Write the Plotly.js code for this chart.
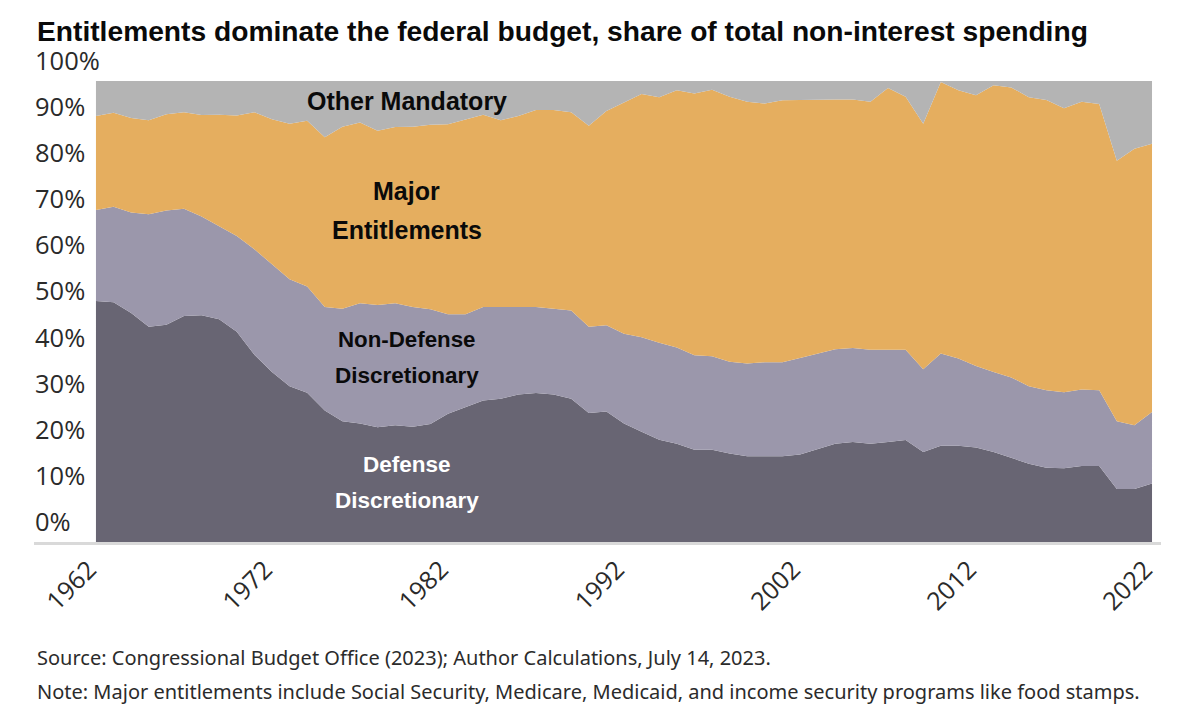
<!DOCTYPE html>
<html><head><meta charset="utf-8">
<script src="https://cdn.plot.ly/plotly-3.0.1.min.js"></script>
<style>html,body{margin:0;padding:0;background:#fff}</style></head>
<body><div id="chart" style="width:1200px;height:725px"></div>
<script>
const years = [1962,1963,1964,1965,1966,1967,1968,1969,1970,1971,1972,1973,1974,1975,1976,1977,1978,1979,1980,1981,1982,1983,1984,1985,1986,1987,1988,1989,1990,1991,1992,1993,1994,1995,1996,1997,1998,1999,2000,2001,2002,2003,2004,2005,2006,2007,2008,2009,2010,2011,2012,2013,2014,2015,2016,2017,2018,2019,2020,2021,2022];
const defense = [52.3,52.0,49.7,46.7,47.1,49.0,49.2,48.3,45.6,40.6,36.9,33.8,32.4,28.5,26.2,25.7,24.9,25.3,25.0,25.6,27.8,29.3,30.7,31.1,32.0,32.3,32.0,31.1,28.0,28.3,25.7,23.9,22.2,21.3,20.0,20.0,19.2,18.6,18.6,18.6,19.0,20.1,21.3,21.7,21.3,21.7,22.1,19.5,20.9,20.9,20.5,19.5,18.2,17.0,16.1,16.0,16.5,16.5,11.5,11.5,12.7];
const nonDefense = [19.7,20.7,21.8,24.4,24.8,23.3,21.4,20.2,20.8,22.9,23.4,23.2,23.0,22.5,24.4,26.1,26.5,26.5,26.0,24.9,21.6,20.1,20.3,19.9,19.0,18.7,18.6,19.1,18.7,18.7,19.5,20.5,21.0,20.9,20.5,20.3,19.9,20.1,20.4,20.4,20.9,20.8,20.5,20.4,20.4,20.0,19.6,18.0,20.0,18.9,17.7,17.4,17.5,16.8,16.8,16.5,16.6,16.4,14.7,13.8,15.5];
const majorEnt = [20.4,20.4,20.5,20.4,20.9,20.9,22.0,24.2,26.1,29.7,31.4,33.7,36.0,36.8,39.5,39.2,37.8,38.2,39.1,40.0,41.2,42.3,41.7,40.5,41.4,42.7,43.1,43.0,43.6,46.5,50.2,52.8,53.3,55.8,56.8,57.8,57.5,56.8,56.1,56.8,56.0,55.1,54.2,53.9,53.8,56.8,54.9,53.2,58.9,58.2,58.7,62.2,62.9,62.7,63.0,61.6,62.4,62.1,56.5,60.0,58.2];
const otherMand = [7.6,6.9,8.0,8.5,7.2,6.8,7.4,7.3,7.5,6.8,8.3,9.3,8.6,12.2,9.9,9.0,10.8,10.0,9.9,9.5,9.4,8.3,7.3,8.5,7.6,6.3,6.3,6.8,9.7,6.5,4.6,2.8,3.5,2.0,2.7,1.9,3.4,4.5,4.9,4.2,4.1,4.0,4.0,4.0,4.5,1.5,3.4,9.3,0.2,2.0,3.1,0.9,1.4,3.5,4.1,5.9,4.5,5.0,17.3,14.7,13.6];
const xTicks = [1962,1972,1982,1992,2002,2012,2022];
const yTicks = [0,10,20,30,40,50,60,70,80,90,100];
const yTickText = yTicks.map(v => v + '%');

const tickFont = 'Open Sans, sans-serif';
const labelFont = 'Liberation Sans, sans-serif';
function area(name, y, color){
  return {type:'scatter', x:years, y:y, name:name, stackgroup:'one', mode:'lines',
          line:{width:0, color:color}, fillcolor:color, hoverinfo:'skip'};
}
const traces = [
  area('Defense Discretionary', defense, '#686573'),
  area('Non-Defense Discretionary', nonDefense, '#9b97ab'),
  area('Major Entitlements', majorEnt, '#e5ae5f'),
  area('Other Mandatory', otherMand, '#b4b4b4'),
  {type:'scatter', x:[years[0]], y:[0], yaxis:'y2', mode:'markers', marker:{opacity:0,size:1}, hoverinfo:'skip', showlegend:false}
];
function lab(text, y, size, color){
  return {text:'<b>'+text+'</b>', x:1979.65, y:y, xref:'x', yref:'y', showarrow:false,
          font:{family:labelFont, size:size, color:color||'#0a0a0a'}};
}
function note(text, py){
  return {text:text, x:0, xshift:1, y:(562-py)/521, xref:'paper', yref:'paper', xanchor:'left', yanchor:'middle', showarrow:false,
          font:{family:'Noto Sans, sans-serif', size:20, color:'#2b2b2b'}};
}
const layout = {
  width:1200, height:725, showlegend:false,
  paper_bgcolor:'#fff', plot_bgcolor:'rgba(0,0,0,0)',
  margin:{l:34, r:39, t:41, b:163},
  title:{text:'<b>Entitlements dominate the federal budget, share of total non-interest spending</b>',
         x:37/1200, xanchor:'left', y:1-31/725, yanchor:'middle',
         font:{family:'Liberation Sans, sans-serif', size:28.2, color:'#0a0a0a'}},
  xaxis:{range:[1958.48,2022.51], tickmode:'array', tickvals:xTicks, tickangle:-45, ticks:'', ticklabelshift:-7,
         tickfont:{family:tickFont, size:25, color:'#2a2a2a'}, showgrid:false, zeroline:false,
         showline:true, linecolor:'#d9d9d9', linewidth:3, anchor:'y'},
  yaxis:{domain:[20/521,481/521], range:[0,100], visible:false},
  yaxis2:{domain:[20/521,1], range:[-4.34,104.34], anchor:'free', position:0, side:'right', tickmode:'array', tickvals:yTicks, ticktext:yTickText,
          showgrid:false, zeroline:false, showline:false, ticks:'', automargin:false,
          tickfont:{family:tickFont, size:25.5, color:'#2a2a2a'}},
  annotations:[
    lab('Other Mandatory',95.7,25),
    lab('Major',76.1,25),
    lab('Entitlements',67.7,25),
    lab('Non-Defense',44.0,22.3),
    lab('Discretionary',36.2,22.5),
    lab('Defense',16.9,22.5,'#fff'),
    lab('Discretionary',9.1,22.5,'#fff'),
    note('Source: Congressional Budget Office (2023); Author Calculations, July 14, 2023.',657),
    note('Note: Major entitlements include Social Security, Medicare, Medicaid, and income security programs like food stamps.',691)
  ]
};
Plotly.newPlot('chart', traces, layout, {displayModeBar:false, staticPlot:true});
</script></body></html>
